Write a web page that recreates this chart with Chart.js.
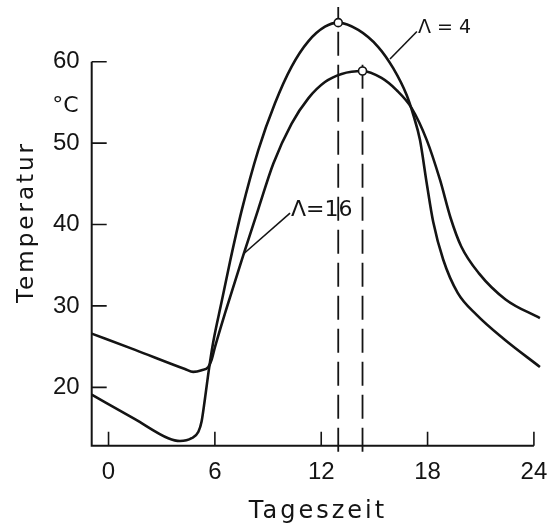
<!DOCTYPE html>
<html><head><meta charset="utf-8">
<script src="https://cdn.jsdelivr.net/npm/chart.js@4/dist/chart.umd.min.js"></script>
<style>html,body{margin:0;padding:0;background:#fff}</style>
</head><body>
<canvas id="c" width="551" height="525"></canvas>
<script>
// ---- data ----
const hoursL4 = [-0.95, 1.49, 3.37, 4.03, 4.69, 5.07, 5.25, 5.44, 5.67, 5.91, 6.38, 6.85, 7.51, 8.45, 9.39, 10.33, 11.27, 12.21, 12.96, 14.09, 15.22, 16.06, 16.82, 17.19, 17.57, 17.95, 18.32, 18.88, 19.7, 20.77, 22.27, 24.34];
const tempL4  = [19.1, 16.1, 13.75, 13.4, 13.75, 14.55, 15.8, 18.6, 22.3, 25.6, 30.5, 35.4, 41.7, 49.15, 54.9, 59.4, 62.5, 64.3, 64.8, 63.9, 61.8, 59.2, 55.9, 53.5, 50.4, 45.1, 40.3, 35.7, 31.6, 28.9, 26.0, 22.5];
const hoursL16 = [-0.95, 1.5, 4.31, 4.78, 5.25, 5.63, 5.82, 6.0, 6.6, 7.6, 8.45, 9.3, 10.33, 11.27, 12.21, 13.15, 14.33, 15.4, 16.25, 17.1, 17.95, 18.7, 19.3, 19.9, 20.9, 22.4, 24.34];
const tempL16  = [26.6, 24.6, 22.25, 21.9, 22.1, 22.5, 23.4, 24.9, 29.3, 36.2, 41.9, 47.5, 52.4, 55.5, 57.5, 58.5, 58.86, 58.0, 56.5, 54.3, 50.4, 45.5, 40.8, 37.3, 34.0, 30.8, 28.5];
const peakHours = [12.96, 14.33];
const peakTemps = [64.8, 58.86];
const xTickValues = [0, 6, 12, 18, 24];
const yTickValues = [20, 30, 40, 50, 60];
const seriesNames = ['\u039B = 4', '\u039B=16'];
// annotation anchors in data units: [textX, textY, leaderFromX, leaderFromY, leaderToX, leaderToY]
const annoL4  = [17.46, 64.08, 17.4, 63.71, 15.88, 60.33];
const annoL16 = [10.29, 41.78, 10.24, 41.41, 7.61, 36.38];
const xTitle = 'Tageszeit';
const yTitle = 'Temperatur';
const yUnit = '\u00B0C';

const X_MIN = -0.95, X_MAX = 24.4, Y_MIN = 12.83, Y_MAX = 66.72;
const INK = '#141414';

const toPts = (xs, ys) => xs.map((x, i) => ({x, y: ys[i]}));

const overlay = {
  id: 'overlay',
  afterDraw(chart) {
    const {ctx, chartArea: a, scales: {x, y}} = chart;
    ctx.save();
    ctx.strokeStyle = INK; ctx.fillStyle = INK;
    ctx.lineWidth = 2; ctx.lineCap = 'butt';
    // axes
    ctx.beginPath();
    ctx.moveTo(a.left, y.getPixelForValue(60));
    ctx.lineTo(a.left, a.bottom);
    ctx.lineTo(x.getPixelForValue(24), a.bottom);
    ctx.stroke();
    // ticks (inward)
    ctx.lineWidth = 1.6;
    ctx.beginPath();
    xTickValues.forEach(v => { const px = x.getPixelForValue(v); ctx.moveTo(px, a.bottom); ctx.lineTo(px, a.bottom - 14); });
    yTickValues.forEach(v => { const py = y.getPixelForValue(v); ctx.moveTo(a.left, py); ctx.lineTo(a.left + 15, py); });
    ctx.stroke();
    // leader lines
    ctx.lineWidth = 1.6;
    [annoL4, annoL16].forEach(an => {
      ctx.beginPath();
      ctx.moveTo(x.getPixelForValue(an[2]), y.getPixelForValue(an[3]));
      ctx.lineTo(x.getPixelForValue(an[4]), y.getPixelForValue(an[5]));
      ctx.stroke();
    });
    // series labels
    ctx.textBaseline = 'middle'; ctx.textAlign = 'left';
    ctx.font = '19px "DejaVu Sans"';
    ctx.fillText(seriesNames[0], x.getPixelForValue(annoL4[0]), y.getPixelForValue(annoL4[1]));
    ctx.font = '22px "DejaVu Sans"';
    ctx.fillText(seriesNames[1], x.getPixelForValue(annoL16[0]), y.getPixelForValue(annoL16[1]));
    // unit
    ctx.font = '22px "DejaVu Sans"'; ctx.textAlign = 'right';
    ctx.fillText(yUnit, a.left - 13, y.getPixelForValue(54.56));
    // axis titles
    ctx.letterSpacing = '3px';
    ctx.font = '24px "DejaVu Sans"'; ctx.textAlign = 'center';
    ctx.fillText(xTitle, 318, 512);
    ctx.save();
    ctx.translate(27, 222);
    ctx.rotate(-Math.PI / 2);
    ctx.font = '23px "DejaVu Sans"';
    ctx.fillText(yTitle, 0, 0);
    ctx.restore();
    ctx.restore();
  }
};

new Chart(document.getElementById('c'), {
  type: 'line',
  data: {
    datasets: [
      { label: 'peaks', data: toPts(peakHours, peakTemps), showLine: false, pointRadius: 4,
        pointBackgroundColor: '#fff', pointBorderColor: INK, pointBorderWidth: 1.6, order: 0 },
      { label: seriesNames[0], data: toPts(hoursL4, tempL4), borderColor: INK, borderWidth: 2.6,
        pointRadius: 0, cubicInterpolationMode: 'monotone', fill: false, order: 1 },
      { label: seriesNames[1], data: toPts(hoursL16, tempL16), borderColor: INK, borderWidth: 2.6,
        pointRadius: 0, cubicInterpolationMode: 'monotone', fill: false, order: 1 },
      { label: 'max1', data: toPts([peakHours[0], peakHours[0]], [12.1, Y_MAX]), borderColor: INK, borderWidth: 1.8,
        borderDash: [24, 9], pointRadius: 0, clip: false, order: 2 },
      { label: 'max2', data: toPts([peakHours[1], peakHours[1]], [12.1, 60.1]), borderColor: INK, borderWidth: 1.8,
        borderDash: [24, 9], pointRadius: 0, clip: false, order: 2 }
    ]
  },
  options: {
    responsive: false, devicePixelRatio: 1, animation: false,
    layout: { padding: { top: 7, right: 10, left: 0, bottom: 0 } },
    plugins: { legend: { display: false }, tooltip: { enabled: false } },
    scales: {
      x: {
        type: 'linear', min: X_MIN, max: X_MAX,
        grid: { display: false, drawTicks: false }, border: { display: false },
        afterBuildTicks: s => { s.ticks = xTickValues.map(v => ({value: v})); },
        afterFit: s => { s.height = 79.3; s.paddingLeft = 0; s.paddingRight = 0; },
        ticks: { color: INK, font: { family: 'Liberation Sans', size: 24 }, padding: 12, maxRotation: 0, autoSkip: false,
                 callback: v => String(v) }
      },
      y: {
        type: 'linear', min: Y_MIN, max: Y_MAX,
        grid: { display: false, drawTicks: false }, border: { display: false },
        afterBuildTicks: s => { s.ticks = yTickValues.map(v => ({value: v})); },
        afterFit: s => { s.width = 91.7; s.paddingTop = 0; s.paddingBottom = 0; },
        ticks: { color: INK, font: { family: 'Liberation Sans', size: 24 }, padding: 12, autoSkip: false,
                 callback: v => String(v) }
      }
    }
  },
  plugins: [overlay]
});
</script>
</body></html>
